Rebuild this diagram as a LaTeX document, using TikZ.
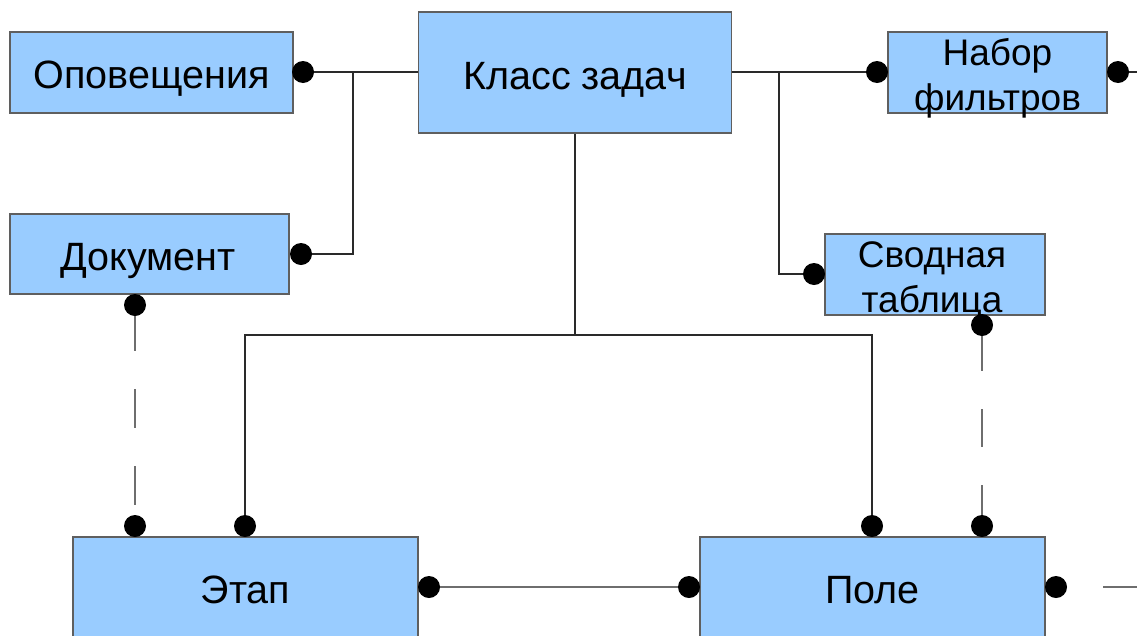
\documentclass[tikz,border=0pt]{standalone}
\usepackage{fontspec}
\setmainfont{Liberation Sans}
\definecolor{boxfill}{HTML}{99CCFF}
\definecolor{boxline}{HTML}{5F5F5F}
\definecolor{linkdark}{HTML}{2A2A2A}
\definecolor{linkgray}{HTML}{6E6E6E}
% two centred lines; the baseline is that of the first line
\newcommand{\stackedlabel}[2]{\vtop{\baselineskip=45pt\halign{\hfil##\hfil\cr#1\cr#2\cr}}}

\begin{document}
\begin{tikzpicture}[x=1pt,y=-1pt,
  entity/.style={draw=boxline, fill=boxfill, line width=1.2pt, inner sep=0pt},
  big/.style={font=\fontsize{39.5}{45}\selectfont, anchor=base, inner sep=0pt},
  small/.style={font=\fontsize{37}{45}\selectfont, anchor=base, inner sep=0pt},
  dot/.style={circle, fill=black, inner sep=0pt, minimum size=22pt},
  link/.style={draw=linkdark, line width=1.2pt},
  linkg/.style={draw=linkgray, line width=1.4pt},
  ]
\useasboundingbox (0,0) rectangle (1137,635);
\clip (0,0) rectangle (1137,635);

% entities
\node[entity, minimum width=283pt, minimum height=81pt]  (opov)  at (151.5,72.5) {};
\node[entity, minimum width=313pt, minimum height=121pt] (klass) at (575,72.5) {};
\node[entity, minimum width=219pt, minimum height=81pt]  (nabor) at (997.5,72.5) {};
\node[entity, minimum width=279pt, minimum height=80pt]  (dok)   at (149.5,254) {};
\node[entity, minimum width=220pt, minimum height=81pt]  (svod)  at (935,274.5) {};
\node[entity, minimum width=345pt, minimum height=104pt] (etap)  at (245.5,589) {};
\node[entity, minimum width=345pt, minimum height=104pt] (pole)  at (872.5,589) {};

% entity names
\node[big]   (opov-t)  at (151.5,88) {Оповещения};
\node[big]   (klass-t) at (575,89)   {Класс задач};
\node[small] (nabor-t) at (997.5,65) {\stackedlabel{Набор}{фильтров}};
\node[big]   (dok-t)   at (148,270)  {Документ};
\node[small] (svod-t)  at (932,267)  {\stackedlabel{Сводная}{таблица}};
\node[big]   (etap-t)  at (245.5,603) {Этап};
\node[big]   (pole-t)  at (872.5,603) {Поле};

% relationship ends
\node[dot] (d1)  at (303,72)   {};
\node[dot] (d2)  at (301,254)  {};
\node[dot] (d3)  at (135,305)  {};
\node[dot] (d4)  at (877,72)   {};
\node[dot] (d5)  at (1118,72)  {};
\node[dot] (d6)  at (814,274)  {};
\node[dot] (d7)  at (982,325)  {};
\node[dot] (d8)  at (135,526)  {};
\node[dot] (d9)  at (245,526)  {};
\node[dot] (d10) at (429,587)  {};
\node[dot] (d11) at (689,587)  {};
\node[dot] (d12) at (872,526)  {};
\node[dot] (d13) at (982,526)  {};
\node[dot] (d14) at (1056,587) {};

% junctions and free ends
\coordinate (j1)  at (353,72);
\coordinate (j2)  at (779,72);
\coordinate (bus) at (575,335);
\coordinate (out1) at (1145,72);
\coordinate (out2) at (1150,587);

% relationships
\draw[link] (d1) -- (klass.west |- d1);
\draw[link] (d2) -| (j1);
\draw[link] (klass.east |- d4) -- (d4);
\draw[link] (j2) |- (d6);
\draw[link] (klass.south) -- (bus);
\draw[link] (d9) |- (bus) -| (d12);
\draw[link] (d5) -- (out1);
\draw[linkg] (d10) -- (d11);
\draw[linkg, dash pattern=on 39pt off 38pt, dash phase=4pt] (d3) -- (d8);
\draw[linkg, dash pattern=on 38pt off 38pt, dash phase=3pt] (d7) -- (d13);
\draw[linkg, dash pattern=on 40pt off 36pt, dash phase=40pt] (d14) -- (out2);
\end{tikzpicture}
\end{document}
